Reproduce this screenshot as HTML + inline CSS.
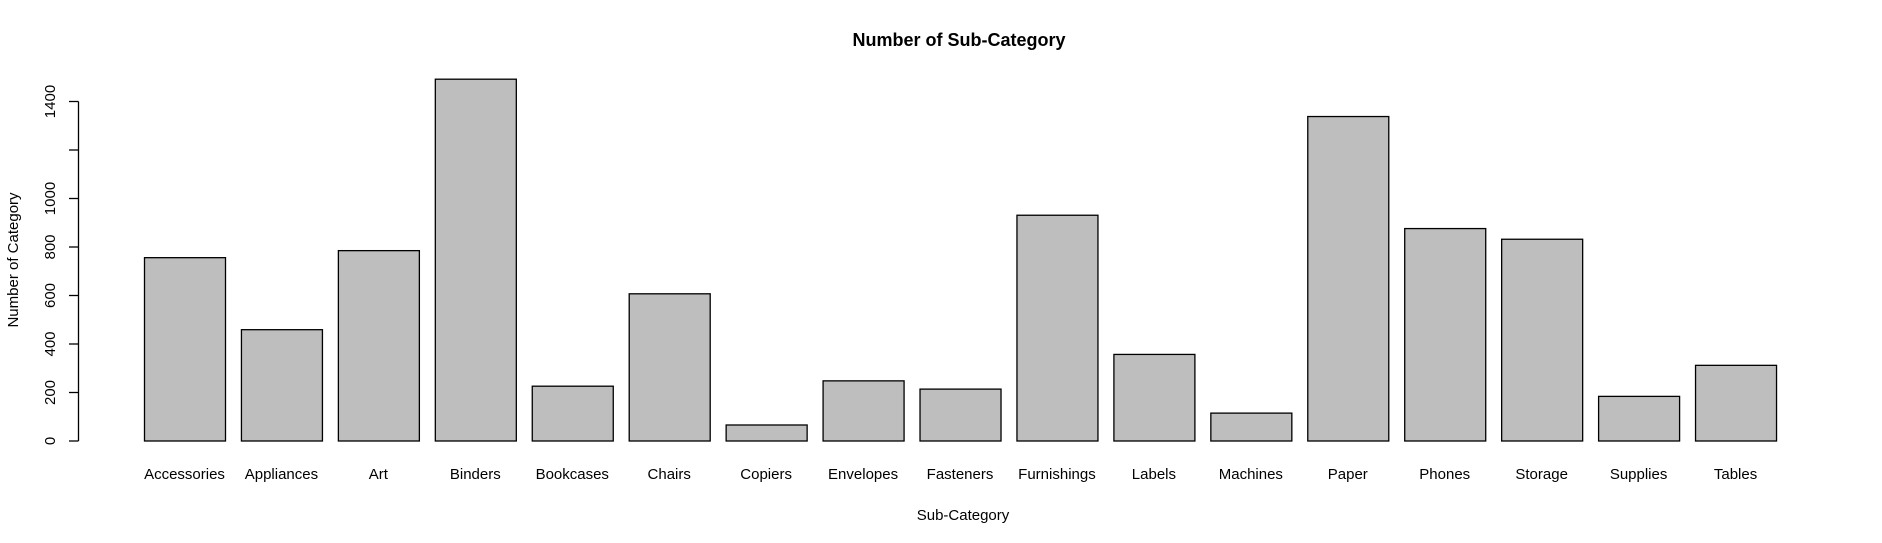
<!DOCTYPE html>
<html><head><meta charset="utf-8"><style>
html,body{margin:0;padding:0;background:#fff;}
svg{display:block;font-family:"Liberation Sans",Arial,sans-serif;}
</style></head><body>
<svg id="chart" width="1882" height="543" viewBox="0 0 1882 543">
<text x="959" y="46" text-anchor="middle" font-size="18" font-weight="bold">Number of Sub-Category</text>
<g id="bars"></g>
<g id="yaxis"></g>
<text x="963" y="520" text-anchor="middle" font-size="15">Sub-Category</text>
<text transform="translate(18,260) rotate(-90)" text-anchor="middle" font-size="15">Number of Category</text>
</svg>
<script>
const categories=["Accessories","Appliances","Art","Binders","Bookcases","Chairs","Copiers","Envelopes","Fasteners","Furnishings","Labels","Machines","Paper","Phones","Storage","Supplies","Tables"];
const counts=[756,459,785,1492,226,607,66,248,214,931,357,115,1338,876,832,184,312];
const yTicks=[0,200,400,600,800,1000,1200,1400];
const yTickLabels=["0","200","400","600","800","1000","","1400"];
const NS="http://www.w3.org/2000/svg";
const y0=441, pxPer=0.2425;
function yScale(v){return y0-v*pxPer;}
const step=96.94, bw=81, x0=144;
function xLeft(i){return x0+i*step;}
const bars=document.getElementById('bars');
categories.forEach((c,i)=>{
  const r=document.createElementNS(NS,'rect');
  
  
  const t=yScale(counts[i]);
  r.setAttribute('x',xLeft(i)+0.5);r.setAttribute('y',t);
  r.setAttribute('width',bw);r.setAttribute('height',y0-t);
  r.setAttribute('fill','#bebebe');r.setAttribute('stroke','#000');r.setAttribute('stroke-width','1.3');
  bars.appendChild(r);
  const tx=document.createElementNS(NS,'text');
  
  
  tx.setAttribute('x',xLeft(i)+bw/2);tx.setAttribute('y',479);
  tx.setAttribute('text-anchor','middle');tx.setAttribute('font-size','15');
  tx.textContent=c;bars.appendChild(tx);
});
const ya=document.getElementById('yaxis');
const ax=document.createElementNS(NS,'line');


ax.setAttribute('x1',78.5);ax.setAttribute('x2',78.5);
ax.setAttribute('y1',yScale(yTicks[0]));ax.setAttribute('y2',yScale(yTicks[yTicks.length-1]));
ax.setAttribute('stroke','#000');ax.setAttribute('stroke-width','1.3');ya.appendChild(ax);
yTicks.forEach((v,i)=>{
  const y=yScale(v);
  const l=document.createElementNS(NS,'line');
  
  
  l.setAttribute('x1',69);l.setAttribute('x2',78.5);l.setAttribute('y1',y);l.setAttribute('y2',y);
  l.setAttribute('stroke','#000');l.setAttribute('stroke-width','1.3');ya.appendChild(l);
  if(yTickLabels[i]){
    const t=document.createElementNS(NS,'text');
    
    
    t.setAttribute('transform','translate(55,'+y+') rotate(-90)');
    t.setAttribute('text-anchor','middle');t.setAttribute('font-size','15');
    t.textContent=yTickLabels[i];ya.appendChild(t);
  }
});
</script>
</body></html>
